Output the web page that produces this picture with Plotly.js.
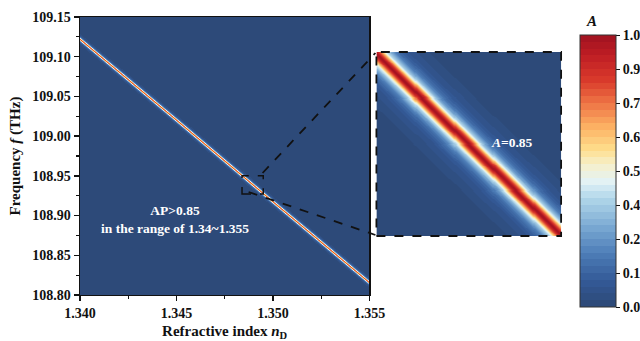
<!DOCTYPE html>
<html>
<head>
<meta charset="utf-8">
<script src="https://cdn.plot.ly/plotly-3.0.1.min.js"></script>
<style>html,body{margin:0;padding:0;background:#fff;}#chart{width:640px;height:341px;}</style>
</head>
<body>
<div id="chart"></div>
<script>
// ---- data ----
const nRange = [1.340, 1.355];                 // refractive index axis range
const fRange = [108.80, 109.15];               // frequency axis range (THz)
const lineN = [1.340, 1.345, 1.350, 1.355];    // resonance ridge: refractive index
const lineF = [109.122, 109.020, 108.917, 108.815]; // resonance ridge: frequency (THz)
const profileDf = [0, 0.0001, 0.0003, 0.0006, 0.0009, 0.0012, 0.0015, 0.002, 0.0025, 0.003, 0.004, 0.006, 0.01]; // detuning from ridge (THz)
const profileA  = [1.0, 0.98, 0.92, 0.8, 0.68, 0.53, 0.42, 0.3, 0.21, 0.15, 0.08, 0.03, 0.0];            // absorption A
const zoomN = [1.3484, 1.3495];                // zoomed window (n)
const zoomF = [108.9272, 108.9502];            // zoomed window (f)
const xTicks = [1.340, 1.345, 1.350, 1.355];
const yTicks = [108.80, 108.85, 108.90, 108.95, 109.00, 109.05, 109.10, 109.15];
const cbTickVals = [0, 0.125, 0.25, 0.375, 0.5, 0.625, 0.75, 0.875, 1.0];
const cbTickText = ['0.0', '0.1', '0.2', '0.4', '0.5', '0.6', '0.7', '0.9', '1.0'];

// ---- helpers ----
function interp(xs, ys, x) {
  if (x <= xs[0]) return ys[0];
  for (let i = 1; i < xs.length; i++) {
    if (x <= xs[i]) { const t = (x - xs[i-1]) / (xs[i] - xs[i-1]); return ys[i-1] + t * (ys[i] - ys[i-1]); }
  }
  return ys[ys.length - 1];
}
function absorb(n, f) {
  const fc = interp(lineN, lineF, n);
  return interp(profileDf, profileA, Math.abs(f - fc));
}
function grid(xr, yr, nx, ny, sub, halfWin) {
  const xs = [], ys = [], z = [];
  for (let i = 0; i < nx; i++) xs.push(xr[0] + (xr[1] - xr[0]) * (i + 0.5) / nx);
  for (let j = 0; j < ny; j++) ys.push(yr[0] + (yr[1] - yr[0]) * (j + 0.5) / ny);
  const dy = (yr[1] - yr[0]) / ny;
  for (let j = 0; j < ny; j++) {
    const row = [];
    for (let i = 0; i < nx; i++) {
      let s = 0;
      for (let k = 0; k < sub; k++) {
        const off = sub === 1 ? 0 : (-halfWin + 2 * halfWin * k / (sub - 1)) * dy;
        s += absorb(xs[i], ys[j] + off);
      }
      row.push(s / sub);
    }
    z.push(row);
  }
  return {x: xs, y: ys, z: z};
}

// stepped colour scale (RdYlBu reversed, dark navy base)
const anchors = [
  [0.00, [44, 72, 116]], [0.10, [52, 90, 152]], [0.20, [78, 126, 184]], [0.30, [125, 172, 212]],
  [0.40, [178, 215, 234]], [0.46, [226, 242, 246]], [0.52, [246, 240, 205]], [0.58, [254, 222, 140]],
  [0.66, [252, 178, 100]], [0.74, [240, 122, 72]], [0.83, [218, 60, 44]], [0.92, [192, 30, 36]], [1.00, [160, 18, 32]]
];
function colAt(t) {
  for (let i = 1; i < anchors.length; i++) {
    if (t <= anchors[i][0]) {
      const a = anchors[i-1], b = anchors[i], u = (t - a[0]) / (b[0] - a[0]);
      const c = a[1].map((v, k) => Math.round(v + u * (b[1][k] - v)));
      return 'rgb(' + c.join(',') + ')';
    }
  }
  return 'rgb(' + anchors[anchors.length-1][1].join(',') + ')';
}
const NS = 40, cscale = [];
for (let i = 0; i < NS; i++) {
  const c = colAt((i + 0.5) / NS);
  cscale.push([i / NS, c]); cscale.push([(i + 1) / NS, c]);
}

const mainG = grid(nRange, fRange, 290, 278, 7, 0.8);
const zoomG = grid(zoomN, zoomF, 180, 180, 1, 0);

const FONT = 'Liberation Serif';
const tf = {family: FONT, size: 14, color: '#111', weight: 700};

const traces = [
  {type: 'heatmap', x: mainG.x, y: mainG.y, z: mainG.z, coloraxis: 'coloraxis', xaxis: 'x', yaxis: 'y', hoverinfo: 'skip'},
  {type: 'heatmap', x: zoomG.x, y: zoomG.y, z: zoomG.z, coloraxis: 'coloraxis', xaxis: 'x2', yaxis: 'y2', zsmooth: 'best', hoverinfo: 'skip'}
];

const W = 640, H = 341;
const px = v => v / W, py = v => 1 - v / H;

const layout = {
  width: W, height: H,
  margin: {l: 0, r: 0, t: 0, b: 0},
  paper_bgcolor: '#fff', plot_bgcolor: '#fff',
  showlegend: false,
  font: {family: FONT, color: '#111', weight: 700},
  xaxis: {
    domain: [px(80), px(370)], range: nRange, anchor: 'y',
    tickvals: xTicks, ticktext: xTicks.map(v => '<b>' + v.toFixed(3) + '</b>'),
    ticks: 'outside', ticklen: 5, tickwidth: 1.3, tickcolor: '#111',
    minor: {tickvals: [1.3425, 1.3475, 1.3525], ticks: 'outside', ticklen: 3, tickwidth: 1.2, tickcolor: '#111'},
    showline: true, linecolor: '#111', linewidth: 1.3, mirror: true,
    showgrid: false, zeroline: false, tickfont: tf,
    title: {text: '<b>Refractive index <i>n</i><sub>D</sub></b>', font: {family: FONT, size: 15, color: '#111', weight: 700}, standoff: 10}
  },
  yaxis: {
    domain: [py(295), py(17)], range: fRange, anchor: 'x',
    tickvals: yTicks, ticktext: yTicks.map(v => '<b>' + v.toFixed(2) + '</b>'),
    ticks: 'outside', ticklen: 5, tickwidth: 1.3, tickcolor: '#111',
    minor: {tickvals: [108.825, 108.875, 108.925, 108.975, 109.025, 109.075, 109.125], ticks: 'outside', ticklen: 3, tickwidth: 1.2, tickcolor: '#111'},
    showline: true, linecolor: '#111', linewidth: 1.3, mirror: true,
    showgrid: false, zeroline: false, tickfont: tf,
    title: {text: '<b>Frequency <i>f</i> (THz)</b>', font: {family: FONT, size: 15, color: '#111', weight: 700}, standoff: 8}
  },
  xaxis2: {domain: [px(377), px(562)], range: zoomN, anchor: 'y2', visible: false},
  yaxis2: {domain: [py(236), py(52)], range: zoomF, anchor: 'x2', visible: false},
  coloraxis: {
    cmin: 0, cmax: 1, colorscale: cscale, showscale: true,
    colorbar: {
      x: px(580), xanchor: 'left', xref: 'paper',
      y: py(35), yanchor: 'top', len: (307 - 35) / H, lenmode: 'fraction',
      thickness: 36, thicknessmode: 'pixels',
      outlinewidth: 1, outlinecolor: '#333',
      tickvals: cbTickVals, ticktext: cbTickText.map(t => '<b>' + t + '</b>'),
      ticks: 'outside', ticklen: 4, tickwidth: 1, tickcolor: '#111',
      tickfont: tf, xpad: 0, ypad: 0
    }
  },
  shapes: [
    {type: 'rect', xref: 'x', yref: 'y', x0: zoomN[0], x1: zoomN[1], y0: zoomF[0], y1: zoomF[1],
     line: {color: '#111', width: 1.5, dash: 'dash'}},
    {type: 'line', xref: 'paper', yref: 'paper', x0: px(263), y0: py(173), x1: px(376), y1: py(53),
     line: {color: '#111', width: 1.8, dash: 'dash'}},
    {type: 'line', xref: 'paper', yref: 'paper', x0: px(249), y0: py(192), x1: px(376), y1: py(235),
     line: {color: '#111', width: 1.8, dash: 'dash'}},
    {type: 'rect', xref: 'paper', yref: 'paper', x0: px(377), x1: px(562), y0: py(236), y1: py(52),
     line: {color: '#111', width: 1.8, dash: 'dash'}}
  ],
  annotations: [
    {xref: 'paper', yref: 'paper', x: px(175), y: py(219), xanchor: 'center', yanchor: 'middle',
     text: '<b>AP>0.85<br>in the range of 1.34~1.355</b>',
     showarrow: false, font: {family: FONT, size: 13.5, color: '#fff', weight: 700}, align: 'center'},
    {xref: 'paper', yref: 'paper', x: px(513), y: py(142), xanchor: 'center', yanchor: 'middle',
     text: '<b><i>A</i>=0.85</b>',
     showarrow: false, font: {family: FONT, size: 13.5, color: '#fff', weight: 700}},
    {xref: 'paper', yref: 'paper', x: px(592), y: py(21), xanchor: 'center', yanchor: 'middle',
     text: '<b><i>A</i></b>',
     showarrow: false, font: {family: FONT, size: 15, color: '#111', weight: 700}}
  ]
};

Plotly.newPlot('chart', traces, layout, {staticPlot: true, displayModeBar: false});
</script>
</body>
</html>
